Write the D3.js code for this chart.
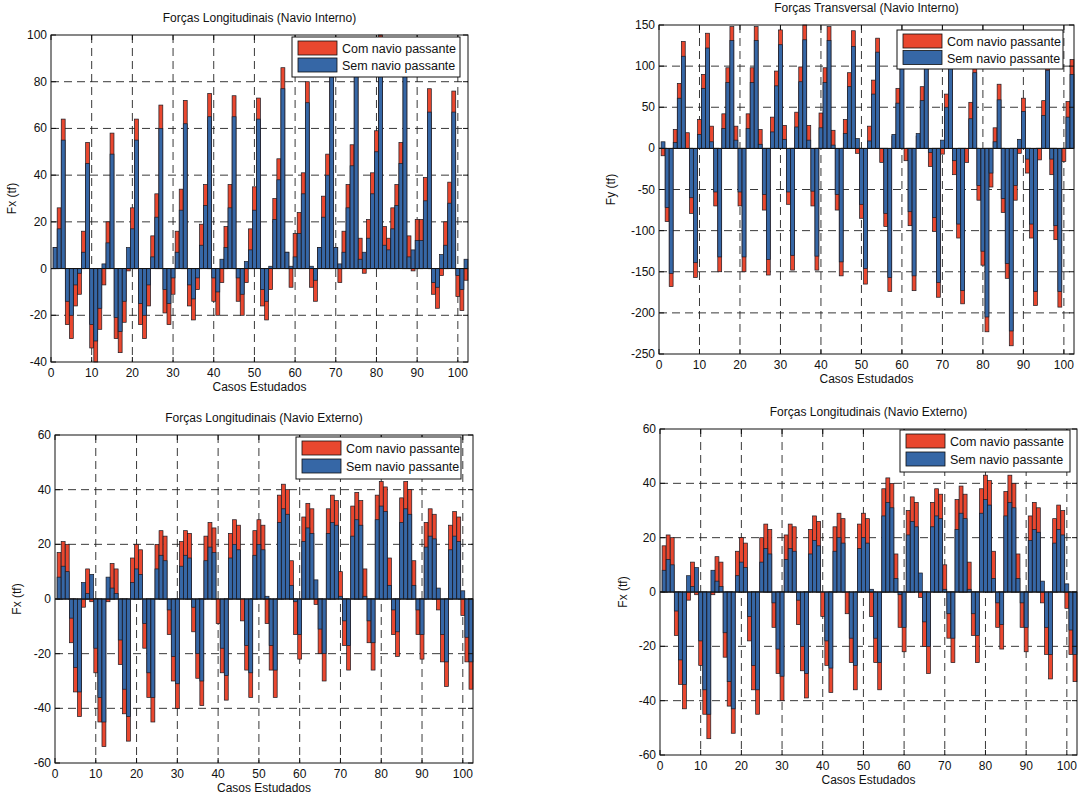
<!DOCTYPE html>
<html>
<head>
<meta charset="utf-8">
<script src="https://cdn.jsdelivr.net/npm/d3@7"></script>
<style>
  body { margin: 0; background: #fff; }
  svg text { font-family: "Liberation Sans", Arial, Helvetica, sans-serif; fill: #111; }
</style>
</head>
<body>
<svg id="vis" width="1082" height="796"></svg>
<script>
// case numbers on the x axis
const casos = d3.range(1, 103);
const xTicks = [0, 10, 20, 30, 40, 50, 60, 70, 80, 90, 100];

// Fx, navio interno
const fxInternoSem = [
  9, 17, 55, -14, -20, -7,   -2, 7, 45, -24, -31, -17,   2, 11, 49, -21, -27, -14,
  9, 17, 55, -15, -20, -7,   5, 22, 60, -9, -15, -4,     7, 25, 62, -7, -13, -4,
  10, 27, 65, -4, -10, 4,    9, 26, 65, -4, -11, 3,      8, 25, 64, -9, -14, 1,
  21, 38, 77, 7, 1, 5,       15, 32, 71, 1, -5, 9,       22, 40, 82, 9, 2, 7,
  26, 44, 86, 4, 7, 13,      32, 50, 91, 10, 8, 17,      27, 45, 88, 5, 8, 12,
  12, 29, 67, -6, -8, 6,     10, 28, 67, -3, -9, 4
];
const fxInternoCom = [
  9, 26, 64, -24, -30, -16,  -11, 16, 54, -34, -40, -26, -7, 20, 58, -30, -36, -23,
  -1, 26, 64, -24, -30, -16, 14, 32, 70, -19, -24, -11,  16, 34, 72, -16, -22, -9,
  19, 36, 75, -14, -20, -6,  18, 36, 74, -14, -20, -6,   17, 35, 73, -16, -22, -9,
  30, 47, 86, 7, -8, 15,     24, 41, 80, -8, -14, 9,     31, 49, 92, 9, -6, 16,
  36, 53, 96, 13, -2, 21,    41, 59, 100, 18, 13, 26,    36, 54, 97, 14, -1, 21,
  21, 39, 77, -11, -17, -3,  20, 37, 76, -12, -18, -5
];
const fxInternoTicks = [-40, -20, 0, 20, 40, 60, 80, 100];

// Fy, navio interno
const fyInternoSem = [
  8, -72, -152, 7, 61, 112,      0, -60, -139, 17, 73, 122,     8, -53, -132, 24, 80, 131,
  10, -53, -132, 24, 80, 131,    5, -56, -135, 20, 76, 126,     11, -53, -130, 26, 81, 132,
  10, -52, -131, 25, 80, 131,    4, -56, -138, 18, 75, 124,     12, -68, -146, 9, 66, 117,
  0, -79, -157, 17, 55, 112,     0, -77, -155, 18, 58, 115,     -5, -84, -163, 10, 50, 115,
  -15, -92, -173, 0, 36, 92,     -45, -125, -205, -30, 8, 59,   -61, -140, -222, -45, 11, 45,
  -13, -92, -174, 0, 40, 95,     -13, -94, -174, 0, 38, 90
];
const fyInternoCom = [
  -9, -89, -168, 23, 79, 130,    19, -79, -157, 35, 90, 140,    27, -70, -150, 42, 98, 148,
  27, -70, -150, 42, 98, 148,    23, -75, -154, 38, 94, 144,    28, -68, -148, 44, 99, 150,
  28, -70, -148, 43, 98, 148,    22, -75, -155, 35, 92, 143,    -6, -85, -165, 27, 83, 134,
  -17, -95, -174, 15, 73, 130,   -15, -94, -173, 15, 75, 133,   -22, -101, -181, -7, 66, 133,
  -32, -109, -189, -17, 56, 100, -63, -142, -223, -47, 25, 78,  -78, -158, -240, -63, -6, 61,
  -30, -109, -191, -14, 58, 105, -32, -111, -193, -16, 57, 108
];
const fyInternoTicks = [-250, -200, -150, -100, -50, 0, 50, 100, 150];

// Fx, navio externo
const fxExternoSem = [
  8, 12, 10, -7, -25, -34,   6, 2, 9, -18, -36, -45,    8, 4, 2, -15, -33, -43,
  6, 11, 9, -9, -27, -36,    11, 16, 14, -4, -21, -31,  12, 16, 15, -3, -20, -30,
  14, 19, 17, 0, -18, -28,   15, 20, 18, 0, -17, -27,   16, 20, 18, 1, -17, -26,
  28, 33, 31, 5, -1, -13,    21, 26, 24, 7, -11, -20,   24, 28, 27, 1, -8, -17,
  23, 29, 27, 1, -8, -16,    29, 34, 32, 5, -4, -12,    28, 33, 31, 5, -4, -13,
  19, 23, 22, 4, -13, -23,   18, 23, 21, 3, -14, -23
];
const fxExternoCom = [
  17, 21, 20, -16, -34, -43, -3, 11, -1, -27, -45, -54, -1, 13, 11, -24, -42, -52,
  15, 20, 18, -18, -36, -45, 20, 25, 23, -13, -30, -40, 21, 25, 24, -12, -29, -39,
  23, 28, 26, -9, -27, -37,  24, 29, 27, -8, -26, -36,  25, 29, 27, -9, -26, -36,
  38, 42, 40, 14, -13, -22,  30, 35, 33, -2, -20, -30,  33, 38, 36, 10, -17, -26,
  34, 39, 36, 11, -16, -26,  38, 43, 41, 15, -13, -21,  37, 43, 40, 14, -13, -22,
  28, 33, 31, -4, -23, -32,  27, 32, 30, -6, -23, -33
];
const fxExternoTicks = [-60, -40, -20, 0, 20, 40, 60];

const legendLabels = ["Com navio passante", "Sem navio passante"];
const corCom = "#e9472f", corSem = "#3667a6";

const panels = [
  { title: "Forças Longitudinais (Navio Interno)", ylabel: "Fx (tf)",
    com: fxInternoCom, sem: fxInternoSem, yTicks: fxInternoTicks,
    left: 51, right: 468, top: 35, bottom: 362, ylabX: 16,
    legend: { x: 292, y: 37, w: 168, h: 40 } },
  { title: "Forças Transversal (Navio Interno)", ylabel: "Fy (tf)",
    com: fyInternoCom, sem: fyInternoSem, yTicks: fyInternoTicks,
    left: 659, right: 1074, top: 25, bottom: 354, ylabX: 615,
    legend: { x: 897, y: 30, w: 166, h: 39 } },
  { title: "Forças Longitudinais (Navio Externo)", ylabel: "Fx (tf)",
    com: fxExternoCom, sem: fxExternoSem, yTicks: fxExternoTicks,
    left: 55, right: 473, top: 435, bottom: 763, ylabX: 21,
    legend: { x: 296, y: 437, w: 165, h: 42 } },
  { title: "Forças Longitudinais (Navio Externo)", ylabel: "Fx (tf)",
    com: fxExternoCom, sem: fxExternoSem, yTicks: fxExternoTicks,
    left: 660, right: 1077, top: 429, bottom: 755, ylabX: 627,
    legend: { x: 900, y: 430, w: 170, h: 42 } }
];

const svg = d3.select("#vis");

function drawPanel(p, idx) {
  var x = d3.scaleLinear().domain([0, 102.5]).range([p.left, p.right]);
  var y = d3.scaleLinear().domain(d3.extent(p.yTicks)).range([p.bottom, p.top]);
  var g = svg.append("g");

  // dashed grid
  g.selectAll(".vgrid").data(xTicks.filter(d => d > 0))
    .join("line")
    .attr("x1", d => x(d)).attr("x2", d => x(d))
    .attr("y1", p.top).attr("y2", p.bottom)
    .attr("stroke", "#222").attr("stroke-width", 0.9)
    .attr("stroke-dasharray", "8,5");
  g.selectAll(".hgrid").data(p.yTicks.slice(1, -1))
    .join("line")
    .attr("x1", p.left).attr("x2", p.right)
    .attr("y1", d => y(d)).attr("y2", d => y(d))
    .attr("stroke", "#222").attr("stroke-width", 0.9)
    .attr("stroke-dasharray", "8,5");

  var bw = 0.96;
  var y0 = y(0);
  // red (com navio) first, blue (sem navio) on top
  [[p.com, corCom], [p.sem, corSem]].forEach(function (s) {
    g.append("g").selectAll("rect")
      .data(casos)
      .join("rect")
      .attr("x", (c) => x(c - bw / 2))
      .attr("width", x(bw) - x(0))
      .attr("y", (c, i) => Math.min(y(s[0][i]), y0))
      .attr("height", (c, i) => Math.abs(y(s[0][i]) - y0))
      .attr("fill", s[1])
      .attr("stroke", "#1a1a22")
      .attr("stroke-width", 0.7);
  });

  // bar baseline
  g.append("line")
    .attr("x1", p.left).attr("x2", p.right)
    .attr("y1", y0).attr("y2", y0)
    .attr("stroke", "#111").attr("stroke-width", 1);

  // box
  g.append("rect")
    .attr("x", p.left).attr("y", p.top)
    .attr("width", p.right - p.left).attr("height", p.bottom - p.top)
    .attr("fill", "none").attr("stroke", "#111").attr("stroke-width", 1);

  // inward ticks on all sides
  var tl = 5;
  xTicks.forEach(function (t) {
    g.append("line").attr("x1", x(t)).attr("x2", x(t))
      .attr("y1", p.bottom).attr("y2", p.bottom - tl).attr("stroke", "#111");
    g.append("line").attr("x1", x(t)).attr("x2", x(t))
      .attr("y1", p.top).attr("y2", p.top + tl).attr("stroke", "#111");
    g.append("text").attr("x", x(t)).attr("y", p.bottom + 15)
      .attr("text-anchor", "middle").attr("font-size", 12).text(t);
  });
  p.yTicks.forEach(function (t) {
    g.append("line").attr("x1", p.left).attr("x2", p.left + tl)
      .attr("y1", y(t)).attr("y2", y(t)).attr("stroke", "#111");
    g.append("line").attr("x1", p.right).attr("x2", p.right - tl)
      .attr("y1", y(t)).attr("y2", y(t)).attr("stroke", "#111");
    g.append("text").attr("x", p.left - 4).attr("y", y(t) + 4)
      .attr("text-anchor", "end").attr("font-size", 12).text(t);
  });

  // labels
  g.append("text")
    .attr("x", (p.left + p.right) / 2).attr("y", p.top - 13)
    .attr("text-anchor", "middle").attr("font-size", 12).text(p.title);
  g.append("text")
    .attr("x", (p.left + p.right) / 2).attr("y", p.bottom + 29)
    .attr("text-anchor", "middle").attr("font-size", 12).text("Casos Estudados");
  g.append("text")
    .attr("transform", `translate(${p.ylabX}, ${(p.top + p.bottom) / 2}) rotate(-90)`)
    .attr("text-anchor", "middle").attr("font-size", 12).text(p.ylabel);

  // legend
  var L = p.legend;
  var lg = g.append("g").attr("transform", `translate(${L.x}, ${L.y})`);
  lg.append("rect").attr("width", L.w).attr("height", L.h)
    .attr("fill", "#fff").attr("stroke", "#111").attr("stroke-width", 1);
  legendLabels.forEach(function (lab, i) {
    var yy = 4 + i * (L.h - 6) / 2;
    lg.append("rect").attr("x", 6).attr("y", yy)
      .attr("width", 39).attr("height", 14)
      .attr("fill", i === 0 ? corCom : corSem)
      .attr("stroke", "#111").attr("stroke-width", 0.8);
    lg.append("text").attr("x", 50).attr("y", yy + 12)
      .attr("font-size", 12.5).text(lab);
  });
}

panels.forEach(drawPanel);
</script>
</body>
</html>
